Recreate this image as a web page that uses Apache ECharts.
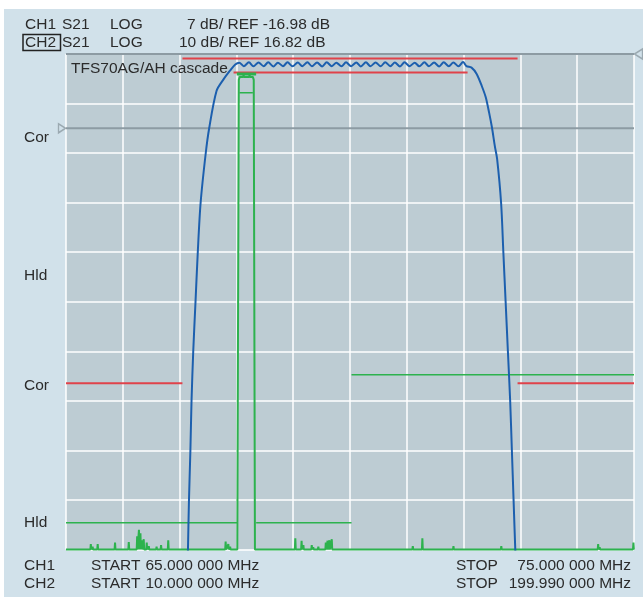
<!DOCTYPE html>
<html><head><meta charset="utf-8">
<script src="https://cdn.jsdelivr.net/npm/echarts@6/dist/echarts.min.js"></script>
<style>
html,body{margin:0;padding:0;background:#ffffff;}
#panel{position:absolute;left:4px;top:9px;width:639px;height:588px;background:#d1e1ea;}
#chart{position:absolute;left:0;top:0;width:643px;height:599px;}
</style></head><body>
<div id="panel"></div><div id="chart"></div>
<script>
// ---------- Channel settings ----------
const ch1Start = 65, ch1Stop = 75;          // MHz
const ch1Ref = -16.98, ch1Scale = 7;        // dB, dB/div
const ch2Start = 10, ch2Stop = 199.99;      // MHz
const ch2Ref = 16.82, ch2Scale = 10;        // dB, dB/div

// ---------- CH1 (blue) trace: TFS70AG/AH cascade ----------
const ch1Freq = [67.145, 67.165, 67.19, 67.21, 67.24, 67.28, 67.32, 67.37, 67.46, 67.52, 67.65, 67.77, 67.89, 67.98,
  68.05, 68.13, 68.22, 68.30, 68.39, 68.48, 68.56, 68.65, 68.73, 68.82, 68.90, 68.99, 69.08, 69.16, 69.25, 69.33,
  69.42, 69.51, 69.59, 69.68, 69.76, 69.85, 69.93, 70.02, 70.11, 70.19, 70.28, 70.36, 70.45, 70.54, 70.62, 70.71,
  70.79, 70.88, 70.96, 71.05, 71.14, 71.22, 71.31, 71.39, 71.48, 71.57, 71.65, 71.74, 71.82, 71.91, 71.99,
  72.05, 72.14, 72.23, 72.32, 72.39, 72.45, 72.50, 72.55, 72.59, 72.66, 72.70, 72.74, 72.78, 72.82, 72.85, 72.88, 72.91, 72.92];
const ch1Level = [-77.5, -69.5, -62.5, -55.5, -48.5, -41.5, -34.5, -27.5, -20.5, -17.0, -11.7, -10.1, -8.8, -7.95,
  -7.70, -8.20, -7.65, -8.22, -7.68, -8.20, -7.66, -8.24, -7.70, -8.20, -7.66, -8.22, -7.68, -8.20, -7.64, -8.22,
  -7.68, -8.24, -7.66, -8.20, -7.70, -8.22, -7.66, -8.20, -7.68, -8.24, -7.66, -8.20, -7.68, -8.22, -7.64, -8.20,
  -7.68, -8.24, -7.66, -8.20, -7.70, -8.22, -7.66, -8.20, -7.68, -8.24, -7.66, -8.20, -7.68, -8.22, -7.62,
  -8.2, -8.4, -9.3, -11.0, -12.6, -14.8, -16.9, -19.5, -21.3, -27.5, -34.5, -41.5, -48.5, -55.5, -62.5, -69.5, -76.5, -78.0];

// CH1 limit lines (red): [startMHz, stopMHz, dB]
const ch1LimitUpper = [67.05, 72.95, -7.1];
const ch1LimitLower = [67.95, 72.07, -9.1];
const ch1StopLeft   = [65.0, 67.05, -53.0];
const ch1StopRight  = [72.95, 75.0, -53.0];

// ---------- CH2 (green) trace: wideband ----------
const ch2Floor = -83.18;
const ch2SpikeFreq = [18.3, 18.9, 20.6, 26.4, 27.2, 31.0, 33.8, 34.4, 34.9, 35.4, 36.0, 37.0, 37.7, 40.3, 41.8, 44.2,
  63.4, 64.3, 64.9, 86.7, 88.8, 89.4, 92.2, 92.7, 94.4, 96.9, 97.5, 98.1, 98.9, 108.3, 126.0, 129.2, 136.8, 139.6,
  155.6, 178.6, 188.0, 188.5, 195.1, 199.8];
const ch2SpikeLevel = [-82.1, -82.6, -82.1, -81.8, -82.9, -81.7, -80.5, -79.2, -79.9, -81.3, -81.1, -81.8, -82.5, -82.6, -82.3, -81.3,
  -81.6, -82.1, -82.6, -80.9, -81.4, -82.3, -82.3, -82.7, -82.6, -81.8, -81.4, -81.3, -81.1, -82.8, -82.5, -80.9, -82.9, -82.5,
  -82.5, -82.8, -82.1, -82.7, -82.9, -81.8];
const ch2PassFreq  = [67.3, 67.8, 68.1, 69.3, 69.4, 69.5, 71.3, 71.4, 71.5, 72.5, 72.8, 73.2];
const ch2PassLevel = [-83.18, 11.6, 12.2, 12.2, 12.7, 12.2, 12.2, 12.7, 12.2, 12.2, 11.6, -83.18];

// CH2 limit lines (green): [startMHz, stopMHz, dB]
const ch2HldLeft   = [10.0, 67.2, -77.8];
const ch2PassUpper = [67.1, 73.6, 12.8];
const ch2PassLower = [68.0, 72.5, 9.0];
const ch2HldRight  = [73.6, 105.5, -77.8];
const ch2Cor       = [105.5, 199.99, -47.9];

// ---------- Texts ----------
const headerLine1 = ['CH1', 'S21', 'LOG', '7 dB/ REF -16.98 dB'];
const headerLine2 = ['CH2', 'S21', 'LOG', '10 dB/ REF 16.82 dB'];
const footerLine1 = ['CH1', 'START', '65.000 000 MHz', 'STOP', '75.000 000 MHz'];
const footerLine2 = ['CH2', 'START', '10.000 000 MHz', 'STOP', '199.990 000 MHz'];
const sideLabels  = ['Cor', 'Hld', 'Cor', 'Hld'];
const traceTitle  = 'TFS70AG/AH cascade';

// ---------- Build ----------
const FONT = '15.5px "Liberation Sans", Arial, sans-serif';
const TXT = '#2b2b2b';
function txt(x, y, s, align) {
  return { type: 'text', x: x, y: y, z: 100, silent: true,
    style: { text: s, font: FONT, fill: TXT, textAlign: align || 'left', textVerticalAlign: 'middle',
             align: align || 'left', verticalAlign: 'middle' } };
}
function seg(s, xi, color, width, z, clip) {
  return { type: 'line', xAxisIndex: xi, yAxisIndex: xi, data: [[s[0], s[2]], [s[1], s[2]]],
    symbol: 'none', silent: true, z: z, clip: clip !== false,
    lineStyle: { color: color, width: width } };
}

const ch1Data = ch1Freq.map((f, i) => [f, ch1Level[i]]);

let ch2Pts = ch2SpikeFreq.map((f, i) => ({ f: f, v: ch2SpikeLevel[i] }));
const ch2Data = [[ch2Start, ch2Floor]];
const spikesBefore = ch2Pts.filter(p => p.f < ch2PassFreq[0]);
const spikesAfter = ch2Pts.filter(p => p.f > ch2PassFreq[ch2PassFreq.length - 1]);
const d = 0.15;
spikesBefore.forEach(p => { ch2Data.push([p.f - d, ch2Floor], [p.f, p.v], [p.f + d, ch2Floor]); });
ch2PassFreq.forEach((f, i) => ch2Data.push([f, ch2PassLevel[i]]));
spikesAfter.forEach(p => { ch2Data.push([p.f - d, ch2Floor], [Math.min(p.f, ch2Stop), p.v], [Math.min(p.f + d, ch2Stop), ch2Floor]); });
ch2Data.push([ch2Stop, ch2Floor]);

const RED = '#e0424a', GREEN = '#2db24e', BLUE = '#1c5fae', GRAY = '#8d9ba3';

const ch1Min = ch1Ref - ch1Scale * 8.5, ch1Max = ch1Ref + ch1Scale * 1.5;
const ch2Min = ch2Ref - ch2Scale * 10, ch2Max = ch2Ref;

const graphics = [];
const hx = [25, 62, 110];
headerLine1.forEach((s, i) => graphics.push(txt(i < 3 ? hx[i] : 187, 25, s)));
headerLine2.forEach((s, i) => graphics.push(txt(i < 3 ? hx[i] : 179, 42.5, s)));
graphics.push({ type: 'rect', z: 100, silent: true, shape: { x: 23, y: 34.5, width: 37.5, height: 16 },
  style: { fill: 'none', stroke: '#222', lineWidth: 1.5 } });
const fx = [24, 91, 145.5, 456];
footerLine1.forEach((s, i) => graphics.push(i < 4 ? txt(fx[i], 566, s) : txt(631, 566, s, 'right')));
footerLine2.forEach((s, i) => graphics.push(i < 4 ? txt(fx[i], 584, s) : txt(631, 584, s, 'right')));
const sy = [137.5, 276, 386, 523];
sideLabels.forEach((s, i) => graphics.push(txt(24, sy[i], s)));
graphics.push(txt(71, 68.5, traceTitle));

const chart = echarts.init(document.getElementById('chart'), null, { renderer: 'canvas' });
chart.setOption({
  animation: false,
  backgroundColor: 'transparent',
  grid: { left: 66, top: 54, width: 568, height: 495.5, show: true, backgroundColor: '#bdccd3', borderWidth: 0 },
  xAxis: [
    { type: 'value', min: 0, max: 10, interval: 1, axisLine: { show: false }, axisTick: { show: false },
      axisLabel: { show: false }, splitLine: { show: true, lineStyle: { color: '#ffffff', width: 1.5 } } },
    { type: 'value', min: ch1Start, max: ch1Stop, show: false },
    { type: 'value', min: ch2Start, max: ch2Stop, show: false }
  ],
  yAxis: [
    { type: 'value', min: 0, max: 10, interval: 1, axisLine: { show: false }, axisTick: { show: false },
      axisLabel: { show: false }, splitLine: { show: true, lineStyle: { color: '#ffffff', width: 1.5 } } },
    { type: 'value', min: ch1Min, max: ch1Max, show: false },
    { type: 'value', min: ch2Min, max: ch2Max, show: false }
  ],
  graphic: graphics,
  series: [
    seg([ch1Start, ch1Stop, ch1Ref], 1, GRAY, 2, 2),
    seg([ch2Start, ch2Stop, ch2Ref], 2, GRAY, 2, 2, false),
    { type: 'scatter', xAxisIndex: 1, yAxisIndex: 1, data: [[ch1Start, ch1Ref]], symbol: 'triangle',
      symbolSize: [9, 7], symbolRotate: -90, symbolOffset: [-4, 0], silent: true, z: 3, clip: false,
      itemStyle: { color: '#d1e1ea', borderColor: GRAY, borderWidth: 1.5 } },
    { type: 'scatter', xAxisIndex: 2, yAxisIndex: 2, data: [[ch2Stop, ch2Ref]], symbol: 'triangle',
      symbolSize: [10, 8], symbolRotate: 90, symbolOffset: [4.5, 0], silent: true, z: 3, clip: false,
      itemStyle: { color: '#d1e1ea', borderColor: GRAY, borderWidth: 1.5 } },
    seg(ch1LimitUpper, 1, RED, 2, 4),
    seg(ch1LimitLower, 1, RED, 2, 4),
    seg(ch1StopLeft, 1, RED, 2, 4),
    seg(ch1StopRight, 1, RED, 2, 4),
    seg(ch2HldLeft, 2, GREEN, 1.5, 5),
    seg(ch2PassUpper, 2, GREEN, 3, 5),
    seg(ch2PassLower, 2, GREEN, 1.5, 5),
    seg(ch2HldRight, 2, GREEN, 1.5, 5),
    seg(ch2Cor, 2, GREEN, 1.5, 5),
    { type: 'line', xAxisIndex: 2, yAxisIndex: 2, data: ch2Data, symbol: 'none', silent: true, z: 6, clip: false,
      lineStyle: { color: GREEN, width: 2 } },
    { type: 'line', xAxisIndex: 1, yAxisIndex: 1, data: ch1Data, symbol: 'none', silent: true, z: 7,
      smooth: 0.3, lineStyle: { color: BLUE, width: 2 } }
  ]
});
</script></body></html>
